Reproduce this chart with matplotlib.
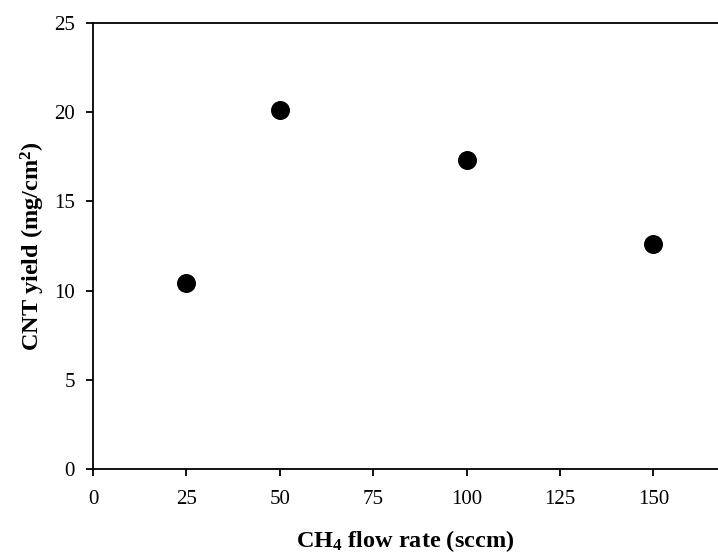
import matplotlib
matplotlib.use("Agg")
import matplotlib.pyplot as plt

flow_rate = [25, 50, 100, 150]
cnt_yield = [10.4, 20.1, 17.3, 12.6]
x_ticks = [0, 25, 50, 75, 100, 125, 150]
y_ticks = [0, 5, 10, 15, 20, 25]

plt.rcParams['font.family'] = ['Liberation Serif', 'DejaVu Serif']
plt.rcParams['mathtext.default'] = 'regular'

fig = plt.figure(figsize=(7.18, 5.55), dpi=100)
ax = fig.add_axes([93/718, 86/555, 1 - 93/718, (469-23)/555])
ax.scatter(flow_rate, cnt_yield, s=160, color='black', zorder=3, clip_on=False)
ax.set_xlim(0, 167.3)
ax.set_ylim(0, 25)
ax.set_xticks(x_ticks)
ax.set_yticks(y_ticks)
ax.spines['right'].set_visible(False)
for s in ['left', 'top', 'bottom']:
    ax.spines[s].set_linewidth(1.3)
ax.tick_params(direction='out', length=5, width=1.3, labelsize=15, pad=8)
ax.tick_params(axis='x', pad=10)
ax.set_xlabel('CH$_4$ flow rate (sccm)', fontsize=17.5, fontweight='bold', labelpad=14)
ax.set_ylabel('CNT yield (mg/cm$^2$)', fontsize=17.5, fontweight='bold', labelpad=5)
fig.savefig('out.png', dpi=100)
